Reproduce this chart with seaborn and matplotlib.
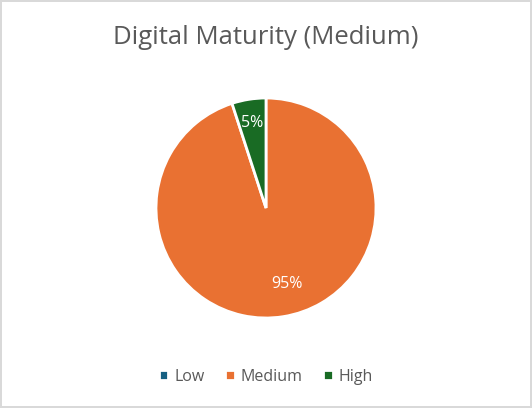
import matplotlib
matplotlib.use("Agg")
import matplotlib.pyplot as plt
import seaborn as sns

categories = ["Low", "Medium", "High"]
shares = [0, 95, 5]
colors = ["#156082", "#E97132", "#196B24"]
title = "Digital Maturity (Medium)"

sns.set_theme(style="white")
plt.rcParams['font.family'] = ['Open Sans', 'DejaVu Sans']
palette = sns.color_palette(colors)

fig = plt.figure(figsize=(5.32, 4.08), dpi=100)
fig.patch.set_edgecolor("#D9D9D9")
fig.patch.set_linewidth(1.5)

# pie centred at ~(266, 208) px with radius ~110 px
ax = fig.add_axes([(266 - 110) / 532, (408 - 208 - 110) / 408, 220 / 532, 220 / 408])


def pct_label(p):
    return f"{p:.0f}%" if p > 0.5 else ""


wedges, texts, autotexts = ax.pie(
    shares, labels=None, colors=palette, startangle=90, counterclock=False,
    autopct=pct_label, pctdistance=0.7,
    wedgeprops=dict(edgecolor="white", linewidth=2),
    textprops=dict(color="white", fontsize=11.5),
)
ax.set_xlim(-1, 1)
ax.set_ylim(-1, 1)
ax.set_aspect("equal")

# nudge labels like the original
for t, s in zip(autotexts, shares):
    x, y = t.get_position()
    if 0 < s < 10:
        t.set_position((x * 1.12, y * 1.12))
    elif s > 0:
        t.set_position((x + 0.08, y))

fig.text(0.5, 1 - 38 / 408, title, ha="center", va="center", fontsize=18.5, color="#595959")

fig.legend(wedges, categories, loc="center", bbox_to_anchor=(0.5, 1 - 377 / 408),
           ncol=3, frameon=False, fontsize=11.5, handlelength=0.6, handleheight=0.6,
           handletextpad=0.4, columnspacing=1.25, labelcolor="#595959")

fig.savefig("out.png", dpi=100, edgecolor=fig.get_edgecolor())
